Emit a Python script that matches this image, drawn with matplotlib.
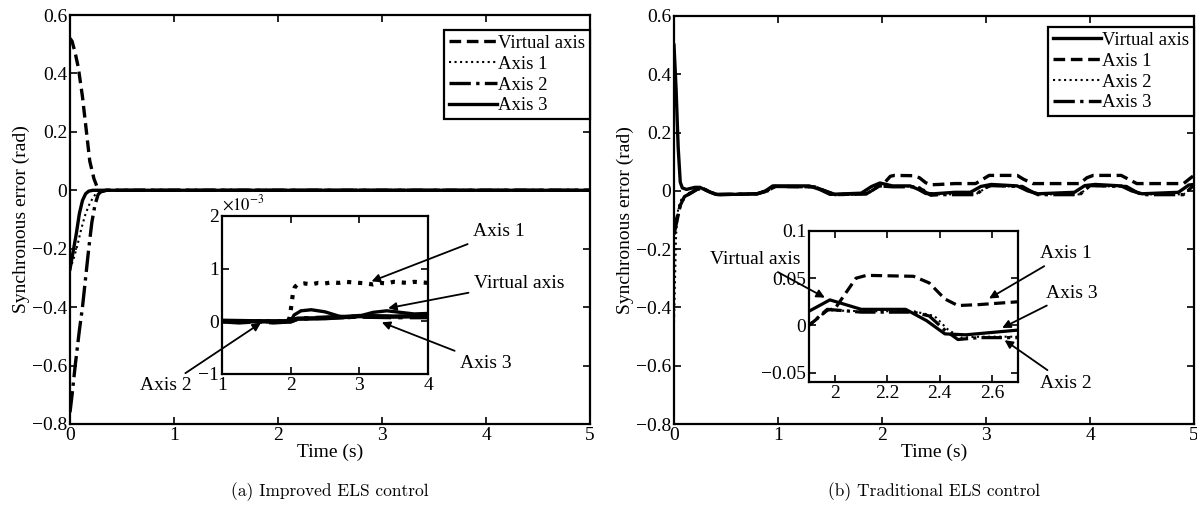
import numpy as np
import matplotlib
matplotlib.use("Agg")
from matplotlib import pyplot as plt
from matplotlib.ticker import FuncFormatter

plt.rcParams['font.family'] = ['Liberation Serif', 'DejaVu Serif']
plt.rcParams['mathtext.fontset'] = 'stix'
plt.rcParams['font.size'] = 13
plt.rcParams['axes.unicode_minus'] = True

# ---------------- (a) improved ELS control ----------------
a_virt_t = [0, 0.02, 0.05, 0.08, 0.12, 0.155, 0.19, 0.23, 0.26, 0.3, 0.35, 5]
a_virt_v = [0.52, 0.51, 0.47, 0.42, 0.32, 0.21, 0.10, 0.04, 0.012, -0.005, 0, 0]
a_ax1_t = [0, 0.03, 0.07, 0.11, 0.15, 0.19, 0.23, 0.27, 0.3, 5]
a_ax1_v = [-0.27, -0.24, -0.19, -0.13, -0.08, -0.045, -0.02, -0.005, 0, 0]
a_ax2_t = [0, 0.02, 0.05, 0.09, 0.12, 0.15, 0.18, 0.21, 0.24, 0.27, 0.3, 0.35, 5]
a_ax2_v = [-0.76, -0.7, -0.6, -0.48, -0.4, -0.3, -0.2, -0.11, -0.05, -0.015, -0.003, 0, 0]
a_ax3_t = [0, 0.02, 0.06, 0.09, 0.12, 0.15, 0.18, 0.22, 5]
a_ax3_v = [-0.27, -0.23, -0.15, -0.08, -0.035, -0.012, -0.003, 0, 0]

# zoomed window, values in units of 1e-3 rad
za_virt_t = [1, 1.5, 2.0, 2.05, 2.15, 2.3, 2.5, 2.7, 2.85, 3.0, 3.2, 3.4, 3.6, 3.8, 4.0]
za_virt_v = [0, 0, 0, 0.12, 0.2, 0.22, 0.18, 0.1, 0.07, 0.1, 0.17, 0.2, 0.17, 0.14, 0.15]
za_ax1_t = [1, 1.5, 1.95, 1.98, 2.0, 2.03, 2.06, 2.1, 2.2, 2.3, 2.4, 2.5, 2.6, 2.7, 2.8,
            2.9, 3.0, 3.1, 3.2, 3.3, 3.4, 3.5, 3.6, 3.7, 3.8, 3.9, 4.0]
za_ax1_v = [0, 0, 0, 0.05, 0.2, 0.5, 0.65, 0.7, 0.72, 0.7, 0.73, 0.72, 0.74, 0.73, 0.75,
            0.74, 0.73, 0.72, 0.7, 0.73, 0.72, 0.75, 0.74, 0.73, 0.75, 0.74, 0.73]
za_ax2_t = [1, 1.25, 1.5, 1.75, 2.0, 2.1, 2.5, 3.0, 3.5, 4.0]
za_ax2_v = [0, -0.02, 0, -0.02, 0, 0.05, 0.07, 0.09, 0.08, 0.08]
za_ax3_t = [1, 1.5, 2.0, 2.1, 2.5, 3.0, 3.5, 4.0]
za_ax3_v = [0.01, 0.0, 0.0, 0.05, 0.06, 0.1, 0.09, 0.1]

# ---------------- (b) traditional ELS control ----------------
b_virt_t = [0, 0.02, 0.04, 0.06, 0.08, 0.12, 0.2, 0.25, 0.32, 0.4, 0.6, 0.8, 0.88, 0.95,
            1.3, 1.4, 1.5, 1.8, 1.9, 1.98, 2.1, 2.27, 2.35, 2.42, 2.5, 2.7, 2.85, 2.95,
            3.05, 3.3, 3.4, 3.5, 3.85, 3.95, 4.05, 4.3, 4.4, 4.5, 4.85, 4.95, 5]
b_virt_v = [0.5, 0.35, 0.15, 0.03, 0.01, 0.005, 0.012, 0.012, 0.0, -0.012, -0.012, -0.01,
            0.0, 0.017, 0.017, 0.005, -0.012, -0.008, 0.015, 0.027, 0.017, 0.017, 0.005,
            -0.009, -0.01, -0.005, -0.005, 0.015, 0.022, 0.017, 0.0, -0.01, -0.005, 0.018,
            0.022, 0.017, 0.0, -0.01, -0.005, 0.02, 0.022]
b_ax1_t = [0, 0.03, 0.06, 0.1, 0.15, 0.22, 0.28, 0.35, 0.42, 0.8, 0.9, 0.97, 1.35, 1.45,
           1.55, 1.85, 1.9, 1.97, 2.0, 2.03, 2.08, 2.12, 2.3, 2.36, 2.42, 2.47, 2.55, 2.7,
           2.9, 2.97, 3.03, 3.3, 3.36, 3.45, 3.9, 3.97, 4.03, 4.3, 4.38, 4.45, 4.9, 4.97, 5]
b_ax1_v = [-0.12, -0.09, -0.05, -0.02, -0.01, 0.005, 0.008, -0.005, -0.013, -0.01, 0.0,
           0.015, 0.014, 0.0, -0.013, -0.01, 0.0, 0.016, 0.018, 0.03, 0.05, 0.053, 0.052,
           0.045, 0.028, 0.021, 0.022, 0.025, 0.025, 0.04, 0.053, 0.053, 0.04, 0.025, 0.025,
           0.045, 0.053, 0.053, 0.038, 0.025, 0.025, 0.045, 0.053]
b_ax2_t = [0, 0.01, 0.02, 0.04, 0.07, 0.12, 0.2, 0.28, 0.35, 0.42, 0.8, 0.9, 0.97, 1.35,
           1.45, 1.55, 1.85, 1.9, 1.97, 2.1, 2.3, 2.38, 2.43, 2.48, 2.55, 2.7, 2.9, 3.0,
           3.05, 3.35, 3.45, 3.5, 3.9, 4.0, 4.35, 4.45, 4.5, 4.9, 5.0]
b_ax2_v = [-0.45, -0.3, -0.15, -0.06, -0.03, -0.012, 0.004, 0.007, -0.006, -0.014, -0.011,
           0.0, 0.014, 0.013, 0.0, -0.014, -0.011, 0.0, 0.016, 0.015, 0.015, 0.01, -0.004,
           -0.013, -0.012, -0.012, -0.012, 0.01, 0.017, 0.014, -0.004, -0.012, -0.012,
           0.017, 0.014, -0.004, -0.012, -0.012, 0.019]
b_ax3_t = [0, 0.03, 0.06, 0.1, 0.15, 0.22, 0.28, 0.35, 0.42, 0.8, 0.9, 0.97, 1.35, 1.45,
           1.55, 1.85, 1.9, 1.97, 2.1, 2.3, 2.36, 2.42, 2.47, 2.55, 2.7, 2.9, 3.0, 3.05,
           3.35, 3.45, 3.5, 3.9, 4.0, 4.35, 4.45, 4.5, 4.9, 5.0]
b_ax3_v = [-0.15, -0.1, -0.05, -0.02, -0.01, 0.005, 0.008, -0.005, -0.013, -0.01, 0.0,
           0.015, 0.014, 0.0, -0.013, -0.01, 0.0, 0.017, 0.014, 0.014, 0.01, -0.005, -0.015,
           -0.013, -0.013, -0.013, 0.012, 0.018, 0.015, -0.005, -0.013, -0.013, 0.018, 0.015,
           -0.005, -0.013, -0.013, 0.02]

main_xticks = [0, 1, 2, 3, 4, 5]
main_yticks = [-0.8, -0.6, -0.4, -0.2, 0, 0.2, 0.4, 0.6]


def fmt(v, pos):
    s = '%g' % round(v, 6)
    return s.replace('-', '\u2212')


def style(ax, size=14):
    ax.tick_params(direction='in', top=True, right=True, length=5, width=1.2,
                   pad=2, labelsize=size)
    for s in ax.spines.values():
        s.set_linewidth(1.6)
    ax.xaxis.set_major_formatter(FuncFormatter(fmt))
    ax.yaxis.set_major_formatter(FuncFormatter(fmt))


W, H = 1197, 507
fig = plt.figure(figsize=(W / 100, H / 100), dpi=100)


def box(x0, y0, x1, y1):
    return [x0 / W, 1 - y1 / H, (x1 - x0) / W, (y1 - y0) / H]


lw = 2.4
# ---- panel (a)
axa = fig.add_axes(box(70, 15, 590, 424))
axa.plot(a_virt_t, a_virt_v, 'k--', lw=lw, dashes=(3.5, 1.7), label='Virtual axis')
axa.plot(a_ax1_t, a_ax1_v, 'k:', lw=1.5, label='Axis 1')
axa.plot(a_ax2_t, a_ax2_v, 'k-.', lw=lw, label='Axis 2')
axa.plot(a_ax3_t, a_ax3_v, 'k-', lw=lw, label='Axis 3')
axa.set_xlim(0, 5)
axa.set_ylim(-0.8, 0.6)
axa.set_xticks(main_xticks)
axa.set_yticks(main_yticks)
style(axa)
axa.set_xlabel('Time (s)', fontsize=14, labelpad=0)
axa.set_ylabel('Synchronous error (rad)', fontsize=14, labelpad=1)

# ---- panel (b)
axb = fig.add_axes(box(674, 16, 1194, 424))
axb.plot(b_virt_t, b_virt_v, 'k-', lw=lw, label='Virtual axis')
axb.plot(b_ax1_t, b_ax1_v, 'k--', lw=lw, dashes=(3.5, 1.7), label='Axis 1')
axb.plot(b_ax2_t, b_ax2_v, 'k:', lw=1.5, label='Axis 2')
axb.plot(b_ax3_t, b_ax3_v, 'k-.', lw=lw, label='Axis 3')
axb.set_xlim(0, 5)
axb.set_ylim(-0.8, 0.6)
axb.set_xticks(main_xticks)
axb.set_yticks(main_yticks)
style(axb)
axb.set_xlabel('Time (s)', fontsize=14, labelpad=0)
axb.set_ylabel('Synchronous error (rad)', fontsize=14, labelpad=1)

for ax, top in ((axa, 15), (axb, 11)):
    leg = ax.legend(loc='upper right', bbox_to_anchor=(1.0, 1 - top / 409),
                    borderaxespad=0, fontsize=13.5, handlelength=2.6,
                    handletextpad=0.05, labelspacing=0.2, borderpad=0.25,
                    fancybox=False, framealpha=1)
    leg.get_frame().set_edgecolor('k')
    leg.get_frame().set_linewidth(1.6)

# ---- inset (a)
ia = fig.add_axes(box(222, 216, 428, 374))
ia.plot(za_ax2_t, za_ax2_v, 'k-.', lw=3.2)
ia.plot(za_ax3_t, za_ax3_v, 'k-', lw=3.2)
ia.plot(za_virt_t, za_virt_v, 'k-', lw=2.4)
ia.plot(za_ax1_t, za_ax1_v, 'k:', lw=3)
ia.set_xlim(1, 4)
ia.set_ylim(-1, 2)
ia.set_xticks([1, 2, 3, 4])
ia.set_yticks([-1, 0, 1, 2])
style(ia, 14)
ia.text(0.0, 1.01, '$\\times10^{-3}$', transform=ia.transAxes, fontsize=12,
        ha='left', va='bottom')

arr = dict(arrowstyle='-|>', color='k', lw=1.3, mutation_scale=12)
ann = dict(textcoords='figure pixels', fontsize=14, arrowprops=arr)
ia.annotate('Axis 1', xy=(3.14, 0.74), xytext=(473, H - 232), va='center', **ann)
ia.annotate('Virtual axis', xy=(3.38, 0.24), xytext=(474, H - 283), va='center', **ann)
ia.annotate('Axis 3', xy=(3.29, 0.0), xytext=(460, H - 363), va='center', **ann)
ia.annotate('Axis 2', xy=(1.6, 0.0), xytext=(192, H - 386), va='center', ha='right', **ann)

# ---- inset (b)
ib = fig.add_axes(box(809, 231, 1018, 382))
ib.plot(b_ax1_t, b_ax1_v, 'k--', lw=2.3, dashes=(3.5, 1.7))
ib.plot(b_ax2_t, b_ax2_v, 'k:', lw=1.5)
ib.plot(b_ax3_t, b_ax3_v, 'k-.', lw=2.3)
ib.plot(b_virt_t, b_virt_v, 'k-', lw=2.3)
ib.set_xlim(1.9, 2.7)
ib.set_ylim(-0.06, 0.1)
ib.set_xticks([2, 2.2, 2.4, 2.6])
ib.set_yticks([-0.05, 0, 0.05, 0.1])
style(ib, 14)
ib.annotate('Virtual axis', xy=(1.97, 0.028), xytext=(800, H - 268), va='bottom',
            ha='right', **ann)
ib.annotate('Axis 1', xy=(2.58, 0.027), xytext=(1040, H - 262), va='bottom', **ann)
ib.annotate('Axis 3', xy=(2.63, -0.004), xytext=(1046, H - 293), va='center', **ann)
ib.annotate('Axis 2', xy=(2.64, -0.014), xytext=(1040, H - 383), va='center', **ann)

fig.text(330 / W, 1 - 492 / H, '(a) Improved ELS control', family='cmr10',
         fontsize=12.5, ha='center', va='center')
fig.text(934 / W, 1 - 492 / H, '(b) Traditional ELS control', family='cmr10',
         fontsize=12.5, ha='center', va='center')

fig.savefig('out.png', dpi=100)
